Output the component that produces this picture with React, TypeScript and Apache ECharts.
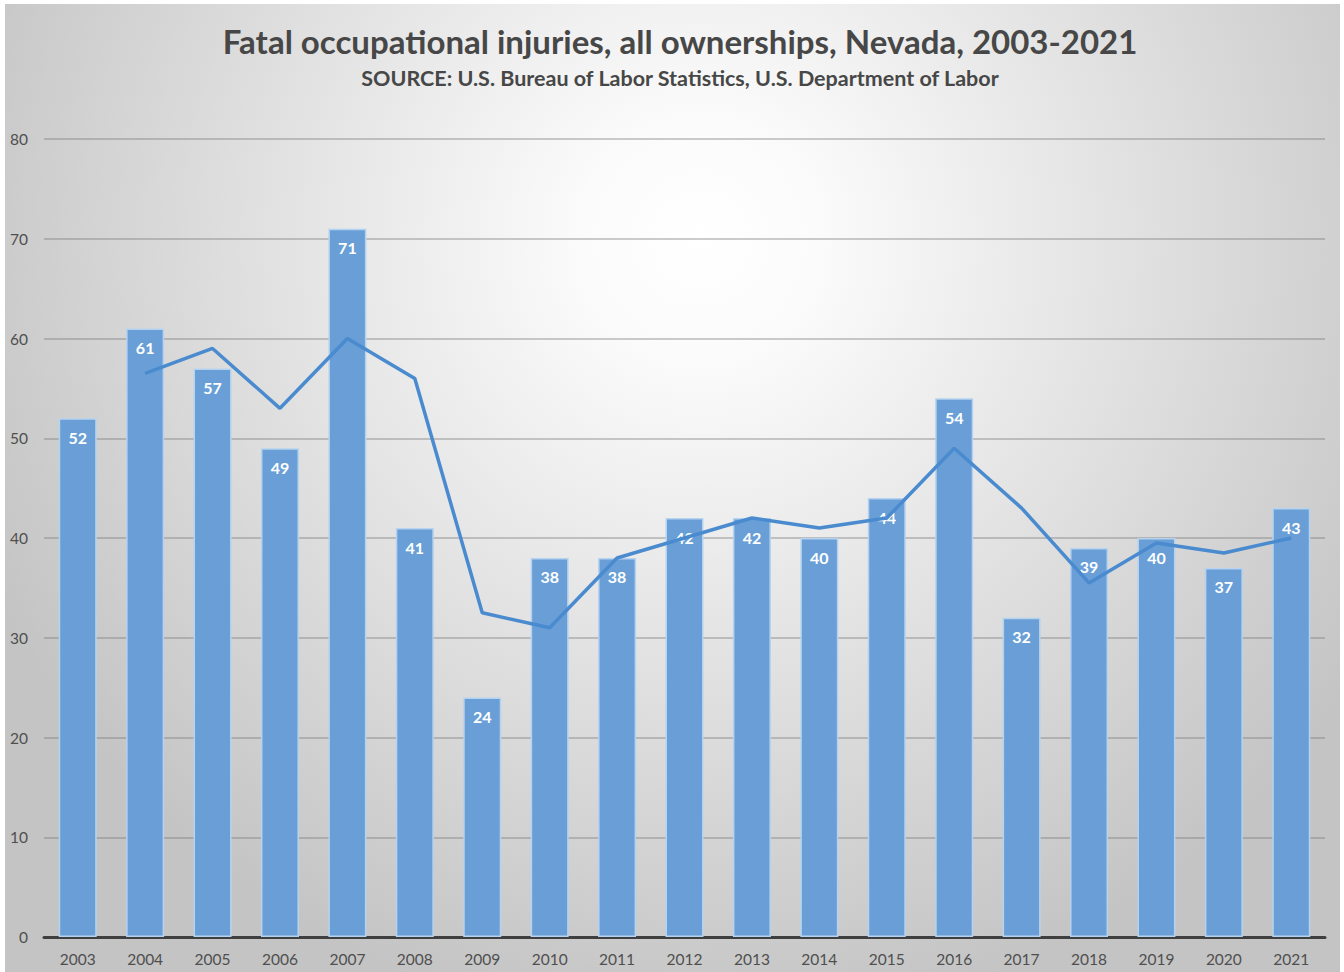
import React, { useEffect, useRef } from "react";
import * as echarts from "echarts";

const years = ["2003","2004","2005","2006","2007","2008","2009","2010","2011","2012","2013","2014","2015","2016","2017","2018","2019","2020","2021"];
const fatalities = [52, 61, 57, 49, 71, 41, 24, 38, 38, 42, 42, 40, 44, 54, 32, 39, 40, 37, 43];
// 2-period moving average trendline (as drawn), none for the first year
const movingAvg: (number | string)[] = ["-", 56.5, 59, 53, 60, 56, 32.5, 31, 38, 40, 42, 41, 42, 49, 43, 35.5, 39.5, 38.5, 40];
const yTicks = { min: 0, max: 80, interval: 10 };

const titleText = "Fatal occupational injuries, all ownerships, Nevada, 2003-2021";
const subtitleText = "SOURCE: U.S. Bureau of Labor Statistics, U.S. Department of Labor";

export default function App() {
  const ref = useRef<HTMLDivElement>(null);
  useEffect(() => {
    if (!ref.current) return;
    const chart = echarts.init(ref.current, undefined, { renderer: "svg" });
    const font = "Lato, 'Open Sans', sans-serif";
    chart.setOption({
      animation: false,
      backgroundColor: "#ffffff",
      graphic: [
        {
          type: "rect",
          z: -10,
          silent: true,
          shape: { x: 5, y: 4, width: 1335, height: 968 },
          style: {
            fill: {
              type: "radial",
              x: 700,
              y: 240,
              r: 790,
              global: true,
              colorStops: [
                { offset: 0, color: "#ffffff" },
                { offset: 0.15, color: "#fbfbfb" },
                { offset: 1, color: "#c4c4c4" },
              ],
            },
          },
        },
      ],
      title: [
        {
          text: titleText,
          left: 675,
          top: 19,
          textAlign: "center",
          textStyle: { fontFamily: font, fontSize: 33, fontWeight: "bold", color: "#474747" },
        },
        {
          text: subtitleText,
          left: 675,
          top: 62,
          textAlign: "center",
          textStyle: { fontFamily: font, fontSize: 21.5, fontWeight: "bold", color: "#474747" },
        },
      ],
      grid: { left: 44, right: 19, top: 139, bottom: 35, containLabel: false },
      xAxis: {
        type: "category",
        data: years,
        axisLine: { lineStyle: { color: "#3f3f3f", width: 3 } },
        axisTick: { show: false },
        axisLabel: { fontFamily: font, fontSize: 15.5, color: "#4f4f4f", margin: 14 },
      },
      yAxis: {
        type: "value",
        min: yTicks.min,
        max: yTicks.max,
        interval: yTicks.interval,
        axisLine: { show: false },
        axisTick: { show: false },
        axisLabel: { fontFamily: font, fontSize: 15.5, color: "#4f4f4f", margin: 16 },
        splitLine: { lineStyle: { color: "rgba(120,120,120,0.38)", width: 2 } },
      },
      series: [
        {
          type: "bar",
          data: fatalities,
          barWidth: 38,
          z: 2,
          itemStyle: { color: "#699fd6", borderColor: "#b5d3f0", borderWidth: 1.5 },
          label: {
            show: true,
            position: "insideTop",
            distance: 11,
            color: "#ffffff",
            fontFamily: font,
            fontSize: 16,
            fontWeight: "bold",
          },
        },
        {
          type: "line",
          data: movingAvg,
          z: 5,
          symbol: "none",
          lineStyle: { color: "#4a8bcf", width: 3.5 },
          label: { show: false },
        },
      ],
    });
    return () => chart.dispose();
  }, []);
  return (
    <div
      ref={ref}
      style={{ position: "fixed", left: 0, top: 0, width: 1344, height: 972 }}
    />
  );
}
